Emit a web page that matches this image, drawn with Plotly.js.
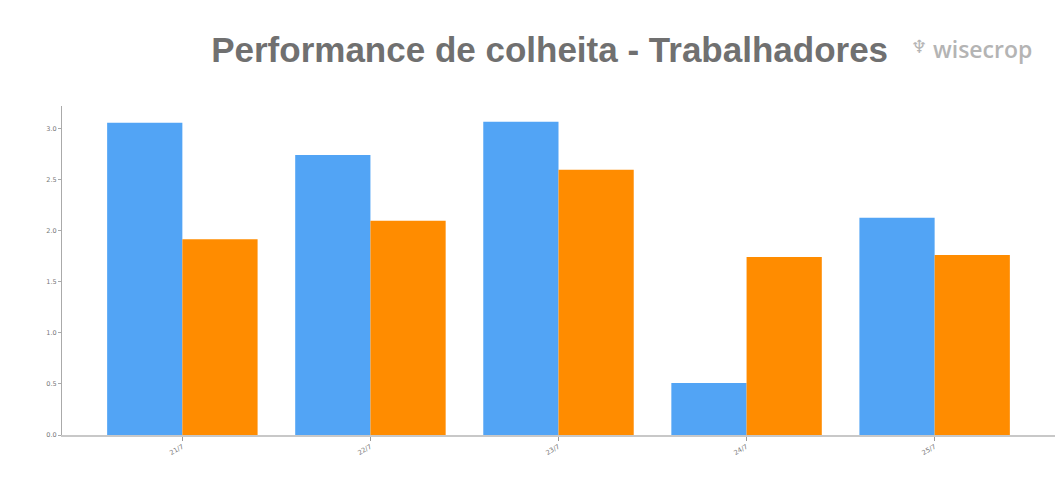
<!DOCTYPE html>
<html><head><meta charset="utf-8">
<script src="https://cdn.plot.ly/plotly-3.0.1.min.js"></script>
<style>html,body{margin:0;padding:0;background:#fff}#chart{width:1057px;height:492px}</style>
</head><body><div id="chart"></div>
<script>
const categories = ["21/7", "22/7", "23/7", "24/7", "25/7"];
const seriesA = [3.06, 2.745, 3.07, 0.51, 2.13];
const seriesB = [1.92, 2.10, 2.60, 1.745, 1.765];
const yTicks = [0, 0.5, 1.0, 1.5, 2.0, 2.5, 3.0];
const yTickLabels = ["0.0", "0.5", "1.0", "1.5", "2.0", "2.5", "3.0"];

const traces = [
  {type: "bar", x: categories, y: seriesA, marker: {color: "#52a4f5", line: {width: 0}}, showlegend: false, hoverinfo: "y"},
  {type: "bar", x: categories, y: seriesB, marker: {color: "#ff8c00", line: {width: 0}}, showlegend: false, hoverinfo: "y"}
];
const layout = {
  width: 1057, height: 492,
  margin: {l: 62, r: 2, t: 106, b: 57},
  paper_bgcolor: "#fff", plot_bgcolor: "#fff",
  barmode: "group", bargap: 0.2, bargroupgap: 0,
  title: {text: "<b>Performance de colheita - Trabalhadores</b>", x: 0.52, xanchor: "center", y: 0.898, yanchor: "middle",
          font: {family: "Liberation Sans, Arial, sans-serif", size: 35, color: "#707070"}},
  xaxis: {type: "category", range: [-0.64, 4.64], showgrid: false, showline: true, linecolor: "#c8c8c8", linewidth: 1.5,
          ticks: "outside", ticklen: 4, tickcolor: "#999", tickangle: -30,
          tickfont: {size: 6.5, color: "#777", family: "DejaVu Sans, sans-serif"}, zeroline: false},
  yaxis: {range: [0, 3.225], showgrid: false, showline: true, linecolor: "#aaa", linewidth: 1,
          ticks: "outside", ticklen: 3, tickcolor: "#aaa", tickvals: yTicks, ticktext: yTickLabels,
          tickfont: {size: 6.5, color: "#777", family: "DejaVu Sans, sans-serif"}, zeroline: false},
  annotations: [
    {xref: "paper", yref: "paper", x: 0.979, y: 1.173, xanchor: "right", yanchor: "middle", showarrow: false,
     text: "wisecrop", font: {family: "Open Sans, sans-serif", size: 23, weight: 600, color: "#b4b4b4"}},
    {xref: "paper", yref: "paper", x: 0.863, y: 1.18, xanchor: "center", yanchor: "middle", showarrow: false,
     text: "♆", font: {family: "DejaVu Sans, sans-serif", size: 18, color: "#b4b4b4"}}
  ]
};
Plotly.newPlot("chart", traces, layout, {displayModeBar: false, staticPlot: true});
</script></body></html>
